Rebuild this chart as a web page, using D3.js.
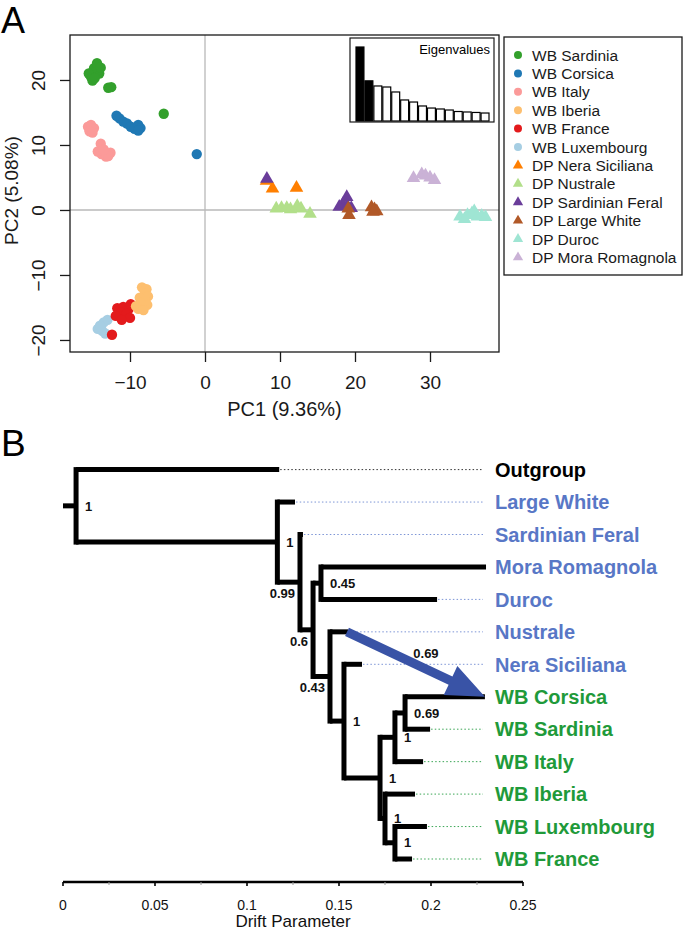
<!DOCTYPE html>
<html><head><meta charset="utf-8">
<script src="https://cdn.jsdelivr.net/npm/d3@7"></script>
<style>body{margin:0;background:#fff}svg{display:block;font-family:"Liberation Sans",Arial,Helvetica,sans-serif}</style>
</head><body><svg id="c" width="685" height="930"></svg>
<script>
// ---------- Panel A data ----------
const groups = ["WB Sardinia","WB Corsica","WB Italy","WB Iberia","WB France","WB Luxembourg",
  "DP Nera Siciliana","DP Nustrale","DP Sardinian Feral","DP Large White","DP Duroc","DP Mora Romagnola"];
const groupColors = ["#33a02c","#1f78b4","#fb9a99","#fdbf6f","#e31a1c","#a6cee3",
  "#ff7f00","#b2df8a","#6a3d9a","#b15928","#9fe5d3","#cab2d6"];
const groupShapes = ["circle","circle","circle","circle","circle","circle",
  "triangle","triangle","triangle","triangle","triangle","triangle"];
const pcSardinia = [[-15.2,20.5],[-14.8,21.8],[-14.4,22.6],[-14.1,21.0],[-15.0,19.9],[-14.6,21.2],[-13.9,21.9],[-15.5,21.0],[-14.7,20.3],[-12.9,18.8],[-12.5,18.9],[-5.5,14.8]];
const pcCorsica = [[-11.8,14.5],[-11.4,14.1],[-10.9,13.6],[-10.4,13.3],[-9.9,12.8],[-9.4,12.5],[-8.9,13.1],[-8.6,12.6],[-8.9,12.2],[-1.1,8.6]];
const pcItaly = [[-15.6,12.8],[-15.2,13.1],[-14.8,12.6],[-15.4,12.1],[-15.0,11.9],[-13.9,10.2],[-14.3,9.0],[-13.8,8.6],[-13.2,8.2],[-12.6,8.8],[-12.9,8.3],[-13.5,9.3]];
const pcIberia = [[-8.4,-11.9],[-7.8,-12.2],[-8.0,-12.8],[-7.6,-13.3],[-8.7,-13.5],[-8.0,-14.0],[-7.7,-14.6],[-8.6,-14.3],[-9.2,-14.8],[-8.9,-15.2],[-8.2,-15.4]];
const pcFrance = [[-11.7,-15.1],[-10.9,-14.9],[-10.2,-15.3],[-9.9,-14.5],[-11.2,-15.8],[-10.5,-16.0],[-11.9,-16.3],[-10.0,-16.6],[-11.1,-16.9],[-12.4,-19.2]];
const pcLuxembourg = [[-13.0,-16.9],[-13.5,-17.3],[-14.0,-17.8],[-14.3,-18.3],[-13.7,-18.6],[-13.3,-19.0],[-13.9,-18.0]];
const pcNera = [[8.2,4.5],[9.0,3.3],[12.2,3.4]];
const pcNustrale = [[9.5,0.2],[10.2,0.3],[10.9,0.3],[11.4,0.1],[12.3,0.6],[12.8,0.2],[14.0,-0.6]];
const pcFeral = [[8.25,4.8],[18.9,2.0],[18.4,0.9],[17.9,0.5],[19.5,0.3],[19.0,0.6]];
const pcLargeWhite = [[19.1,0.2],[19.2,-0.8],[22.2,0.4],[22.6,0.1],[22.9,-0.2],[22.4,-0.3]];
const pcDuroc = [[34.0,-1.0],[34.6,-1.4],[35.0,-0.8],[35.6,-0.5],[35.9,-0.2],[36.3,-1.0],[36.9,-0.9],[37.4,-1.1]];
const pcMora = [[27.8,4.9],[28.9,5.5],[29.4,5.3],[30.0,5.0],[30.6,4.6]];
const pcByGroup = [pcSardinia,pcCorsica,pcItaly,pcIberia,pcFrance,pcLuxembourg,pcNera,pcNustrale,pcFeral,pcLargeWhite,pcDuroc,pcMora];
const drawOrder = [0,1,2,5,4,3,6,7,8,9,10,11];
const pcXTicks = [-10,0,10,20,30];
const pcYTicks = [-20,-10,0,10,20];
const eigenValues = [9.36,5.08,4.43,4.30,3.67,2.66,2.40,1.90,1.64,1.52,1.39,1.20,1.14,1.08,1.01];
const eigenFilled = 2;

// ---------- Panel B data ----------
const treeNames   = ["root","Outgroup","A","Large White","B","Sardinian Feral","C","D","Mora Romagnola","Duroc","E","Nustrale","F","Nera Siciliana","G","H","J","WB Corsica","WB Sardinia","WB Italy","I","WB Iberia","K","WB Luxembourg","WB France"];
const treeParents = ["","root","root","A","A","B","B","C","D","D","C","E","E","F","F","G","H","J","J","H","G","I","I","K","K"];
const treeDrift   = [0.0071,0.1175,0.1165,0.1261,0.1288,0.1304,0.1359,0.1402,0.2299,0.2033,0.1451,0.1549,0.1527,0.1625,0.1723,0.1804,0.1859,0.2293,0.1995,0.1957,0.1750,0.1913,0.1804,0.1978,0.1897];
const leafOrder = ["Outgroup","Large White","Sardinian Feral","Mora Romagnola","Duroc","Nustrale","Nera Siciliana","WB Corsica","WB Sardinia","WB Italy","WB Iberia","WB Luxembourg","WB France"];
const bootNodes  = ["root","A","B","D","C","E","F","J","H","G","I","K"];
const bootValues = [1,1,0.99,0.45,0.6,0.43,1,0.69,1,1,1,1];
const bootSide   = ["r","r","l","r","l","l","r","r","r","r","r","r"];
const migFrom = "Nustrale", migTo = "WB Corsica", migWeight = 0.69;
const driftTicks = [0,0.05,0.1,0.15,0.2,0.25];
const driftMinor = [0.025,0.075,0.125,0.175,0.225];

const svg = d3.select("#c");
const ink = "#1a1a1a";
const narrow = "'Liberation Sans Narrow','Arial Narrow','Liberation Sans',sans-serif";

// ================= Panel A =================
const xA = d3.scaleLinear().domain([-18,39.2]).range([70,499]);
const yA = d3.scaleLinear().domain([-21.85,26.92]).range([352,35]);

svg.append("text").attr("x",1).attr("y",33).attr("font-size",36).text("A");

svg.append("line").attr("x1",xA(0)).attr("x2",xA(0)).attr("y1",yA.range()[1]).attr("y2",yA.range()[0])
  .attr("stroke","#b8b8b8").attr("stroke-width",1.3);
svg.append("line").attr("y1",yA(0)).attr("y2",yA(0)).attr("x1",xA.range()[0]).attr("x2",xA.range()[1])
  .attr("stroke","#b8b8b8").attr("stroke-width",1.3);

const sym = (shape, big) => shape === "circle"
  ? d3.symbol(d3.symbolCircle, big ? 84 : 50)
  : d3.symbol(d3.symbolTriangle, big ? 80 : 46);

const pts = svg.append("g");
drawOrder.forEach(gi => {
  pts.selectAll(null).data(pcByGroup[gi]).enter().append("path")
    .attr("d", sym(groupShapes[gi], true))
    .attr("transform", d => `translate(${xA(d[0])},${yA(d[1])})`)
    .attr("fill", groupColors[gi]);
});

// box
svg.append("rect").attr("x",xA.range()[0]).attr("y",yA.range()[1])
  .attr("width",xA.range()[1]-xA.range()[0]).attr("height",yA.range()[0]-yA.range()[1])
  .attr("fill","none").attr("stroke",ink).attr("stroke-width",1.3);

// axes
const gxA = svg.append("g").attr("transform",`translate(0,${yA.range()[0]})`)
  .call(d3.axisBottom(xA).tickValues(pcXTicks).tickSize(10));
gxA.select(".domain").remove();
gxA.selectAll("line").attr("stroke",ink).attr("stroke-width",1.3);
gxA.selectAll("text").attr("y",37).attr("dy",null).attr("font-size",19).attr("fill",ink)
  .attr("font-family","Liberation Sans, Arial, sans-serif");

const gyA = svg.append("g").attr("transform",`translate(${xA.range()[0]},0)`)
  .call(d3.axisLeft(yA).tickValues(pcYTicks).tickSize(10));
gyA.select(".domain").remove();
gyA.selectAll("line").attr("stroke",ink).attr("stroke-width",1.3);
gyA.selectAll("text").attr("x",null).attr("y",null).attr("dy",null)
  .attr("transform","translate(-25,0) rotate(-90)").attr("text-anchor","middle")
  .attr("font-size",19).attr("fill",ink).attr("font-family","Liberation Sans, Arial, sans-serif");

svg.append("text").attr("x",(xA.range()[0]+xA.range()[1])/2).attr("y",416)
  .attr("text-anchor","middle").attr("font-size",20).attr("fill",ink).text("PC1 (9.36%)");
svg.append("text").attr("transform",`translate(18,${(yA.range()[0]+yA.range()[1])/2 - 3}) rotate(-90)`)
  .attr("text-anchor","middle").attr("font-size",19).attr("fill",ink).text("PC2 (5.08%)");

// eigenvalue inset
const inset = {x0:350,y0:38,x1:494,y1:122};
svg.append("rect").attr("x",inset.x0).attr("y",inset.y0).attr("width",inset.x1-inset.x0).attr("height",inset.y1-inset.y0)
  .attr("fill","#fff").attr("stroke",ink).attr("stroke-width",1.2);
const xE = d3.scaleBand().domain(d3.range(eigenValues.length)).range([356,490]).padding(0);
const yE = d3.scaleLinear().domain([0,d3.max(eigenValues)]).range([121,47]);
svg.append("g").selectAll("rect").data(eigenValues).enter().append("rect")
  .attr("x",(d,i)=>xE(i)).attr("width",xE.bandwidth()-1)
  .attr("y",d=>yE(d)).attr("height",d=>yE(0)-yE(d))
  .attr("fill",(d,i)=> i<eigenFilled ? "#000" : "#fff").attr("stroke","#000").attr("stroke-width",1.2);
svg.append("text").attr("x",490).attr("y",54).attr("text-anchor","end").attr("font-size",13).attr("fill","#000").text("Eigenvalues");

// legend
svg.append("rect").attr("x",504).attr("y",37).attr("width",178).attr("height",238)
  .attr("fill","#fff").attr("stroke",ink).attr("stroke-width",1.3);
const leg = svg.append("g").selectAll("g").data(groups).enter().append("g")
  .attr("transform",(d,i)=>`translate(518,${55+i*18.4})`);
leg.append("path").attr("d",(d,i)=>sym(groupShapes[i],false)()).attr("fill",(d,i)=>groupColors[i]);
leg.append("text").attr("x",14).attr("dy","0.36em").attr("font-size",15.5).attr("fill",ink).text(d=>d);

// ================= Panel B =================
svg.append("text").attr("x",1).attr("y",456).attr("font-size",37).text("B");

const xB = d3.scaleLinear().domain([0,0.25]).range([63,523]);
const yLeaf = d3.scalePoint().domain(leafOrder).range([469.6,859]);

const table = treeNames.map((n,i)=>({name:n,parent:treeParents[i],drift:treeDrift[i]}));
const root = d3.stratify().id(d=>d.name).parentId(d=>d.parent||null)(table);
root.eachAfter(n=>{
  n.px = xB(n.data.drift);
  n.py = n.children ? d3.mean(n.children,c=>c.py) : yLeaf(n.data.name);
});
const byName = {}; root.each(n=>byName[n.data.name]=n);

const leafColor = name => name==="Outgroup" ? "#000" : (name.startsWith("WB") ? "#1f9a3a" : "#5877c6");
const leaderColor = name => name==="Outgroup" ? "#333" : (name.startsWith("WB") ? "#3aa655" : "#7d95d6");

// leaders
const leaderEnd = 483;
root.leaves().forEach(l=>{
  if (l.px < leaderEnd-2 && l.data.name !== migTo) {
    svg.append("line").attr("x1",l.px+1).attr("x2",leaderEnd).attr("y1",l.py).attr("y2",l.py)
      .attr("stroke",leaderColor(l.data.name)).attr("stroke-width",1).attr("stroke-dasharray","1.5,2.2");
  }
});

const tg = svg.append("g").attr("stroke","#000").attr("stroke-width",5).attr("fill","none");
tg.append("line").attr("x1",xB(0)).attr("x2",root.px).attr("y1",root.py).attr("y2",root.py);
root.each(n=>{
  if (n.parent) tg.append("line").attr("x1",n.parent.px).attr("x2",n.px).attr("y1",n.py).attr("y2",n.py);
  if (n.children) {
    const ys = n.children.map(c=>c.py);
    tg.append("line").attr("x1",n.px).attr("x2",n.px).attr("y1",d3.min(ys)).attr("y2",d3.max(ys))
      .attr("stroke-linecap","square");
  }
});

// leaf labels
root.leaves().forEach(l=>{
  svg.append("text").attr("x",495).attr("y",l.py).attr("dy","0.36em")
    .attr("font-size",20).attr("font-weight","bold").attr("fill",leafColor(l.data.name)).text(l.data.name);
});

// bootstrap values
bootNodes.forEach((nm,i)=>{
  const n = byName[nm];
  const t = svg.append("text").attr("font-size",13).attr("font-weight","bold").attr("fill","#111").text(bootValues[i]);
  if (bootSide[i]==="r") t.attr("x",n.px+9).attr("y",n.py).attr("dy","0.36em");
  else t.attr("x",n.px-5).attr("y",n.py+11).attr("dy","0.36em").attr("text-anchor","end");
});

// migration arrow
(function(){
  const a = byName[migFrom], b = byName[migTo];
  const x0=a.px-1, y0=a.py, x1=b.px, y1=b.py;
  const dx=x1-x0, dy=y1-y0, L=Math.hypot(dx,dy), ux=dx/L, uy=dy/L, nx=-uy, ny=ux;
  const sw=4.5, hw=16, hl=38;
  const bx=x1-ux*hl, by=y1-uy*hl;
  const P=[[x0+nx*sw,y0+ny*sw],[bx+nx*sw,by+ny*sw],[bx+nx*hw,by+ny*hw],[x1,y1],[bx-nx*hw,by-ny*hw],[bx-nx*sw,by-ny*sw],[x0-nx*sw,y0-ny*sw]];
  svg.append("path").attr("d","M"+P.map(p=>p.join(",")).join("L")+"Z").attr("fill","#3953a6");
  svg.append("text").attr("x",(x0+x1)/2+10).attr("y",(y0+y1)/2-11).attr("dy","0.36em").attr("text-anchor","middle")
    .attr("font-size",13).attr("font-weight","bold").attr("fill","#111").text(migWeight);
})();

// drift axis
const axY = 882;
svg.append("line").attr("x1",xB(0)).attr("x2",xB(0.25)).attr("y1",axY).attr("y2",axY).attr("stroke","#000").attr("stroke-width",2.6);
svg.append("g").selectAll("line").data(driftTicks).enter().append("line")
  .attr("x1",d=>xB(d)).attr("x2",d=>xB(d)).attr("y1",axY).attr("y2",axY+4).attr("stroke","#000").attr("stroke-width",1.6);
svg.append("g").selectAll("line").data(driftMinor).enter().append("line")
  .attr("x1",d=>xB(d)).attr("x2",d=>xB(d)).attr("y1",axY).attr("y2",axY+3).attr("stroke","#999").attr("stroke-width",1);
svg.append("g").selectAll("text").data(driftTicks).enter().append("text")
  .attr("x",d=>xB(d)).attr("y",910).attr("text-anchor","middle").attr("font-size",14).attr("font-family",narrow)
  .attr("fill","#111").text(d=>d);
svg.append("text").attr("x",(xB(0)+xB(0.25))/2).attr("y",927).attr("text-anchor","middle").attr("font-size",17)
  .attr("font-family",narrow).attr("fill","#111").text("Drift Parameter");
</script></body></html>
